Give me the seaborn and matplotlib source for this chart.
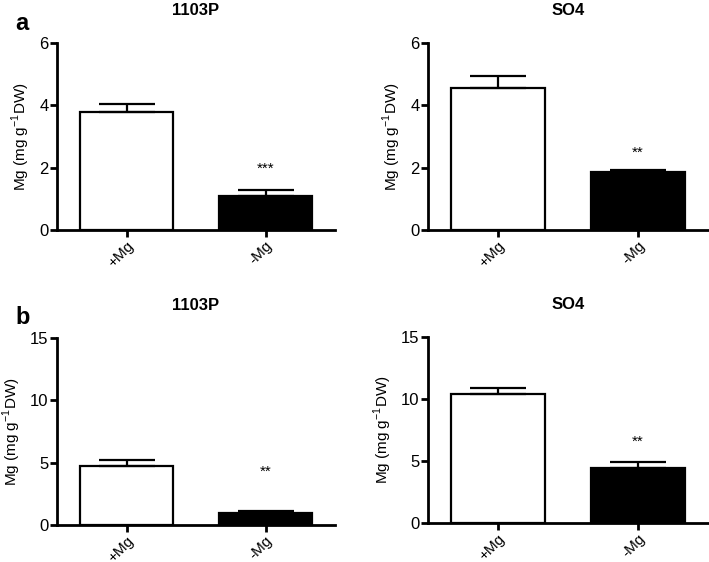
import numpy as np
import matplotlib
matplotlib.use("Agg")
import matplotlib.pyplot as plt
import seaborn as sns

sns.set_style("ticks")
plt.rcParams['font.family'] = ['Liberation Sans', 'DejaVu Sans']
plt.rcParams['mathtext.fontset'] = 'custom'
plt.rcParams['mathtext.rm'] = 'Liberation Sans'
plt.rcParams['text.color'] = 'black'
plt.rcParams['axes.labelcolor'] = 'black'
plt.rcParams['xtick.color'] = 'black'
plt.rcParams['ytick.color'] = 'black'
plt.rcParams['axes.edgecolor'] = 'black'

# data
treatments = ['+Mg', '-Mg']
genotypes = ['1103P', 'SO4']
panel_a_mean = [[3.80, 1.09], [4.55, 1.85]]
panel_a_err = [[0.24, 0.18], [0.40, 0.07]]
panel_b_mean = [[4.77, 0.94], [10.42, 4.42]]
panel_b_err = [[0.45, 0.18], [0.45, 0.48]]
stars = [['', '***'], ['', '**'], ['', '**'], ['', '**']]
star_y = [1.75, 2.25, 3.7, 6.0]
ymax = [6, 6, 15, 15]
yticks = [[0, 2, 4, 6], [0, 2, 4, 6], [0, 5, 10, 15], [0, 5, 10, 15]]

fig = plt.figure(figsize=(7.09, 5.62), dpi=100)
positions = [
    [57 / 709, 1 - 230 / 562, 278 / 709, 187 / 562],
    [428 / 709, 1 - 230 / 562, 280 / 709, 187 / 562],
    [57 / 709, 1 - 525 / 562, 278 / 709, 187 / 562],
    [428 / 709, 1 - 523 / 562, 280 / 709, 186 / 562],
]
means = panel_a_mean + panel_b_mean
errs = panel_a_err + panel_b_err
titles = genotypes + genotypes

for i in range(4):
    ax = fig.add_axes(positions[i])
    sns.barplot(x=treatments, y=means[i], hue=treatments, palette=['white', 'black'],
                edgecolor='black', linewidth=1.6, width=0.67, legend=False, ax=ax)
    ax.errorbar([0, 1], means[i], yerr=[np.zeros(2), errs[i]], fmt='none',
                ecolor='black', elinewidth=1.6, capsize=20, capthick=1.6, zorder=1)
    for j in range(2):
        if stars[i][j]:
            ax.text(j, star_y[i], stars[i][j], ha='center', va='bottom', fontsize=11)
    ax.set_xlim(-0.5, 1.5)
    ax.set_ylim(0, ymax[i])
    ax.set_yticks(yticks[i])
    ax.set_title(titles[i], fontsize=12, fontweight='bold', pad=20)
    ax.set_ylabel('Mg (mg g$^{-1}$DW)', fontsize=11, labelpad=5)
    sns.despine(ax=ax)
    for s in ['left', 'bottom']:
        ax.spines[s].set_linewidth(2)
    ax.tick_params(axis='both', width=2, length=5, labelsize=12, direction='out', pad=1)
    plt.setp(ax.get_xticklabels(), rotation=45, ha='right', rotation_mode='anchor', fontsize=11)

fig.text(15 / 709, 1 - 24 / 562, 'a', fontsize=17, fontweight='bold', ha='left', va='center')
fig.text(15 / 709, 1 - 317 / 562, 'b', fontsize=17, fontweight='bold', ha='left', va='center')

fig.savefig('out.png', dpi=100)
